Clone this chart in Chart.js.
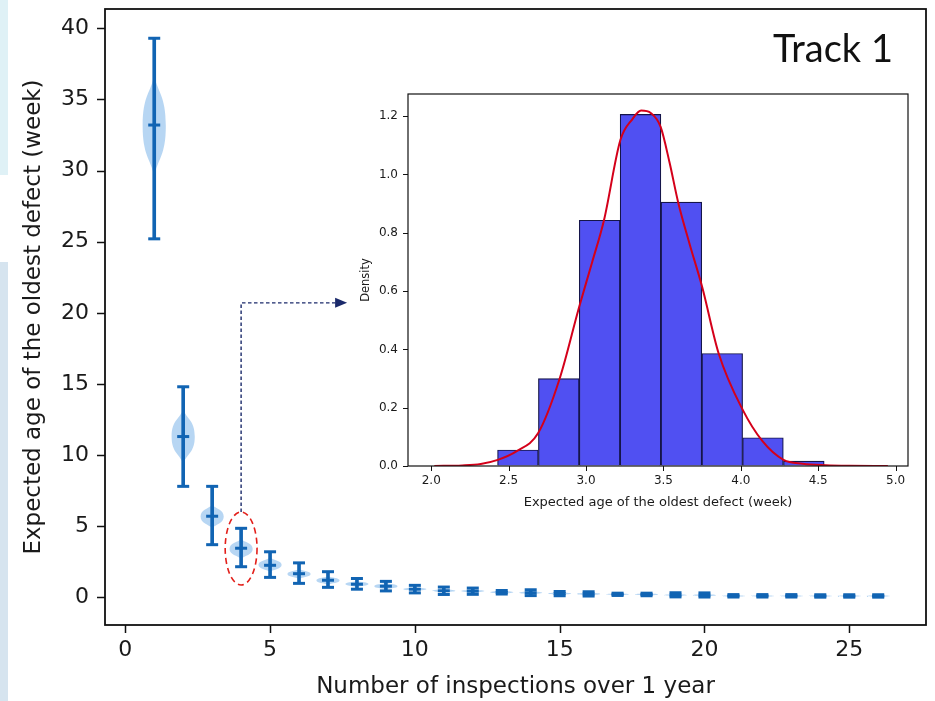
<!DOCTYPE html>
<html>
<head>
<meta charset="utf-8">
<script src="https://cdn.jsdelivr.net/npm/chart.js@4/dist/chart.umd.min.js"></script>
<style>
  html, body { margin: 0; padding: 0; background: #ffffff; }
  #wrap { position: relative; width: 935px; height: 701px; overflow: hidden; background: #ffffff; }
  .strip { position: absolute; left: 0; width: 8px; }
  canvas { position: absolute; }
</style>
</head>
<body>
<div id="wrap">
  <div class="strip" style="top:0;height:175px;background:#dff1f6;"></div>
  <div class="strip" style="top:262px;height:439px;background:#d6e4ef;"></div>
  <canvas id="main" width="935" height="701" style="left:0;top:0;"></canvas>
  <canvas id="inset" width="580" height="440" style="left:340px;top:84px;"></canvas>
</div>
<script>
// ---------------- Main chart data ----------------
const inspections = [1, 2, 3, 4, 5, 6, 7, 8, 9, 10, 11, 12, 13, 14, 15, 16, 17, 18, 19, 20, 21, 22, 23, 24, 25, 26];
const meanAge = [33.2, 11.3, 5.7, 3.45, 2.25, 1.66, 1.2, 0.92, 0.78, 0.57, 0.46, 0.43, 0.35, 0.32, 0.26, 0.24, 0.21, 0.2, 0.16, 0.15, 0.1, 0.1, 0.1, 0.09, 0.09, 0.09];
const minAge = [25.2, 7.8, 3.7, 2.15, 1.4, 0.98, 0.7, 0.57, 0.45, 0.31, 0.2, 0.21, 0.23, 0.12, 0.11, 0.09, 0.13, 0.11, 0.03, 0.02, 0.02, 0.02, 0.02, 0.01, 0.01, 0.01];
const maxAge = [39.3, 14.8, 7.8, 4.85, 3.2, 2.42, 1.8, 1.32, 1.12, 0.84, 0.72, 0.65, 0.48, 0.53, 0.41, 0.39, 0.29, 0.29, 0.32, 0.31, 0.19, 0.19, 0.19, 0.18, 0.18, 0.18];
const bodyLow = [29.6, 9.4, 4.85, 2.7, 1.78, 1.3, 0.9, 0.72, 0.56, 0.44, 0.34, 0.32, 0.25, 0.22, 0.17, 0.15, 0.13, 0.12, 0.08, 0.07, 0.03, 0.03, 0.03, 0.02, 0.02, 0.02];
const bodyHigh = [36.7, 13.2, 6.5, 4.1, 2.78, 1.98, 1.48, 1.14, 1.0, 0.71, 0.59, 0.55, 0.46, 0.43, 0.36, 0.33, 0.29, 0.28, 0.24, 0.23, 0.17, 0.17, 0.17, 0.16, 0.16, 0.16];
const mainXTicks = [0, 5, 10, 15, 20, 25];
const mainYTicks = [0, 5, 10, 15, 20, 25, 30, 35, 40];

// ---------------- Inset data ----------------
const binCenters = [2.560, 2.824, 3.088, 3.352, 3.616, 3.880, 4.143, 4.407];
const binDensity = [0.055, 0.300, 0.843, 1.206, 0.905, 0.386, 0.097, 0.017];
const kdeX = [2.02, 2.2, 2.32, 2.43, 2.55, 2.69, 2.83, 2.956, 3.04, 3.116, 3.222, 3.3, 3.356, 3.42, 3.482, 3.54, 3.595, 3.67, 3.75, 3.857, 4.01, 4.14, 4.276, 4.4, 4.55, 4.7, 4.95];
const kdeY = [0.0, 0.002, 0.007, 0.021, 0.05, 0.112, 0.30, 0.546, 0.70, 0.843, 1.118, 1.19, 1.219, 1.21, 1.163, 1.04, 0.905, 0.76, 0.615, 0.386, 0.195, 0.085, 0.021, 0.008, 0.003, 0.001, 0.0];
const insetXTicks = [2.0, 2.5, 3.0, 3.5, 4.0, 4.5, 5.0];
const insetYTicks = [0.0, 0.2, 0.4, 0.6, 0.8, 1.0, 1.2];

const chartTitle = 'Track 1';
const violinHalfWidth = 0.4;
const highlightEllipse = { x: 4, y: 3.43, rx: 0.55, ry: 2.57 };
const arrowPath = [[4, 6.0], [4, 20.7], [7.66, 20.7]];

const BLUE = '#1164b3';
const FONT = "'DejaVu Sans', sans-serif";
const CLEAR = 'rgba(0,0,0,0)';

function zeroPad(s) { s.paddingTop = 0; s.paddingBottom = 0; s.paddingLeft = 0; s.paddingRight = 0; }

function drawFrameAndTicks(chart, lw, tickLen, tickW, xTicks, yTicks) {
  const { ctx, chartArea: a, scales: { x, y } } = chart;
  ctx.save();
  ctx.strokeStyle = '#111';
  ctx.lineWidth = tickW;
  ctx.beginPath();
  xTicks.forEach(v => {
    const px = Math.round(x.getPixelForValue(v)) + 0.5;
    ctx.moveTo(px, a.bottom); ctx.lineTo(px, a.bottom + tickLen);
  });
  yTicks.forEach(v => {
    const py = Math.round(y.getPixelForValue(v)) + 0.5;
    ctx.moveTo(a.left - tickLen, py); ctx.lineTo(a.left, py);
  });
  ctx.stroke();
  ctx.lineWidth = lw;
  ctx.strokeRect(a.left, a.top, a.width, a.height);
  ctx.restore();
}

const violinPlugin = {
  id: 'violins',
  beforeDatasetsDraw(chart) {
    const { ctx, scales: { x, y } } = chart;
    ctx.save();
    ctx.beginPath();
    ctx.rect(chart.chartArea.left, chart.chartArea.top, chart.chartArea.width, chart.chartArea.height);
    ctx.clip();
    ctx.fillStyle = 'rgba(95,165,228,0.45)';
    inspections.forEach((v, i) => {
      const cx = x.getPixelForValue(v);
      const hw = x.getPixelForValue(v + violinHalfWidth) - cx;
      const top = y.getPixelForValue(bodyHigh[i]);
      const bot = y.getPixelForValue(bodyLow[i]);
      const mid = (top + bot) / 2;
      const h1 = mid - top, h2 = bot - mid;
      ctx.beginPath();
      ctx.moveTo(cx, top);
      ctx.bezierCurveTo(cx + hw * 0.3, top + h1 * 0.35, cx + hw, mid - h1 * 0.6, cx + hw, mid);
      ctx.bezierCurveTo(cx + hw, mid + h2 * 0.6, cx + hw * 0.3, bot - h2 * 0.35, cx, bot);
      ctx.bezierCurveTo(cx - hw * 0.3, bot - h2 * 0.35, cx - hw, mid + h2 * 0.6, cx - hw, mid);
      ctx.bezierCurveTo(cx - hw, mid - h1 * 0.6, cx - hw * 0.3, top + h1 * 0.35, cx, top);
      ctx.closePath();
      ctx.fill();
    });
    ctx.restore();
  },
  afterDraw(chart) {
    const { ctx, scales: { x, y } } = chart;
    drawFrameAndTicks(chart, 1.8, 8, 1.5, mainXTicks, mainYTicks);
    ctx.save();
    // dashed ellipse
    const ex = x.getPixelForValue(highlightEllipse.x);
    const ey = y.getPixelForValue(highlightEllipse.y);
    const erx = x.getPixelForValue(highlightEllipse.x + highlightEllipse.rx) - ex;
    const ery = ey - y.getPixelForValue(highlightEllipse.y + highlightEllipse.ry);
    ctx.strokeStyle = '#e3201b';
    ctx.lineWidth = 1.6;
    ctx.setLineDash([6, 4]);
    ctx.beginPath();
    ctx.ellipse(ex, ey, erx, ery, 0, 0, Math.PI * 2);
    ctx.stroke();
    // dotted arrow
    ctx.strokeStyle = '#1b2a6b';
    ctx.lineWidth = 1.4;
    ctx.setLineDash([3.5, 2.5]);
    ctx.beginPath();
    const pts = arrowPath.map(p => [x.getPixelForValue(p[0]), y.getPixelForValue(p[1])]);
    const last = pts[pts.length - 1];
    ctx.moveTo(pts[0][0], pts[0][1]);
    for (let k = 1; k < pts.length - 1; k++) ctx.lineTo(pts[k][0], pts[k][1]);
    ctx.lineTo(last[0] - 10, last[1]);
    ctx.stroke();
    ctx.setLineDash([]);
    ctx.fillStyle = '#1b2a6b';
    ctx.beginPath();
    ctx.moveTo(last[0], last[1]);
    ctx.lineTo(last[0] - 12, last[1] - 5);
    ctx.lineTo(last[0] - 12, last[1] + 5);
    ctx.closePath();
    ctx.fill();
    // title text
    ctx.fillStyle = '#111';
    ctx.font = "38px Lato, 'Open Sans', sans-serif";
    ctx.textAlign = 'center';
    ctx.textBaseline = 'alphabetic';
    ctx.fillText(chartTitle, 833, 62);
    ctx.restore();
  }
};

Chart.defaults.font.family = FONT;
Chart.defaults.color = '#1a1a1a';

new Chart(document.getElementById('main'), {
  type: 'bar',
  data: {
    datasets: [
      {
        type: 'bar',
        data: inspections.map((v, i) => ({ x: v, y: [minAge[i], maxAge[i]] })),
        backgroundColor: BLUE,
        borderWidth: 0,
        barThickness: 3,
        order: 2
      },
      {
        type: 'line', showLine: false,
        data: inspections.map((v, i) => ({ x: v, y: maxAge[i] })),
        pointStyle: 'line', pointRadius: 6, borderColor: BLUE, borderWidth: 3, order: 1
      },
      {
        type: 'line', showLine: false,
        data: inspections.map((v, i) => ({ x: v, y: minAge[i] })),
        pointStyle: 'line', pointRadius: 6, borderColor: BLUE, borderWidth: 3, order: 1
      },
      {
        type: 'line', showLine: false,
        data: inspections.map((v, i) => ({ x: v, y: meanAge[i] })),
        pointStyle: 'line', pointRadius: 6, borderColor: BLUE, borderWidth: 3, order: 1
      }
    ]
  },
  options: {
    responsive: false,
    animation: false,
    devicePixelRatio: 1,
    layout: { padding: { top: 9, right: 6, left: 0, bottom: 0 } },
    plugins: { legend: { display: false }, tooltip: { enabled: false } },
    scales: {
      x: {
        type: 'linear', min: -0.7, max: 27.65, offset: false,
        afterBuildTicks: s => { s.ticks = mainXTicks.map(v => ({ value: v })); },
        afterFit: s => { s.height = 76; zeroPad(s); },
        grid: { display: true, offset: false, drawOnChartArea: false, drawTicks: true, tickLength: 8, color: CLEAR },
        border: { display: false },
        ticks: { font: { size: 22 }, padding: 4, color: '#1a1a1a', maxRotation: 0 },
        title: { display: true, text: 'Number of inspections over 1 year', font: { size: 23 }, padding: { top: 0, bottom: 0 }, color: '#1a1a1a' }
      },
      y: {
        type: 'linear', min: -1.947, max: 41.357,
        afterBuildTicks: s => { s.ticks = mainYTicks.map(v => ({ value: v })); },
        afterFit: s => { s.width = 105; zeroPad(s); },
        grid: { display: true, drawOnChartArea: false, drawTicks: true, tickLength: 8, color: CLEAR },
        border: { display: false },
        ticks: { font: { size: 22 }, padding: 8, color: '#1a1a1a' },
        title: { display: true, text: 'Expected age of the oldest defect (week)', font: { size: 23 }, padding: { top: 20, bottom: 0 }, color: '#1a1a1a' }
      }
    }
  },
  plugins: [violinPlugin]
});

const insetFrame = {
  id: 'insetFrame',
  beforeDraw(chart) {
    const { ctx, chartArea: a } = chart;
    ctx.save();
    ctx.fillStyle = '#ffffff';
    ctx.fillRect(a.left, a.top, a.width, a.height);
    ctx.restore();
  },
  afterDraw(chart) {
    drawFrameAndTicks(chart, 1.2, 5, 1, insetXTicks, insetYTicks);
  }
};

new Chart(document.getElementById('inset'), {
  type: 'bar',
  data: {
    datasets: [
      {
        type: 'line',
        data: kdeX.map((v, i) => ({ x: v, y: kdeY[i] })),
        borderColor: '#d4001a', borderWidth: 2, pointRadius: 0,
        cubicInterpolationMode: 'monotone', fill: false, order: 0
      },
      {
        type: 'bar',
        data: binCenters.map((v, i) => ({ x: v, y: binDensity[i] })),
        backgroundColor: 'rgb(80,80,242)', borderColor: '#15154a', borderWidth: 1.2,
        barPercentage: 1, categoryPercentage: 1, order: 1
      }
    ]
  },
  options: {
    responsive: false,
    animation: false,
    devicePixelRatio: 1,
    layout: { padding: { top: 10, right: 12, left: 0, bottom: 0 } },
    plugins: { legend: { display: false }, tooltip: { enabled: false } },
    scales: {
      x: {
        type: 'linear', min: 1.85, max: 5.08, offset: false,
        afterBuildTicks: s => { s.ticks = insetXTicks.map(v => ({ value: v })); },
        afterFit: s => { s.height = 58; zeroPad(s); },
        grid: { display: true, offset: false, drawOnChartArea: false, drawTicks: true, tickLength: 5, color: CLEAR },
        border: { display: false },
        ticks: { font: { size: 12 }, padding: 3, color: '#1a1a1a', maxRotation: 0, callback: v => v.toFixed(1) },
        title: { display: true, text: 'Expected age of the oldest defect (week)', font: { size: 13 }, padding: { top: 0, bottom: 14 }, color: '#1a1a1a' }
      },
      y: {
        type: 'linear', min: 0, max: 1.276,
        afterBuildTicks: s => { s.ticks = insetYTicks.map(v => ({ value: v })); },
        afterFit: s => { s.width = 68; zeroPad(s); },
        grid: { display: true, drawOnChartArea: false, drawTicks: true, tickLength: 5, color: CLEAR },
        border: { display: false },
        ticks: { font: { size: 12 }, padding: 5, color: '#1a1a1a', callback: v => v.toFixed(1) },
        title: { display: true, text: 'Density', font: { size: 11.5 }, padding: { top: 19, bottom: 0 }, color: '#1a1a1a' }
      }
    }
  },
  plugins: [insetFrame]
});
</script>
</body>
</html>
